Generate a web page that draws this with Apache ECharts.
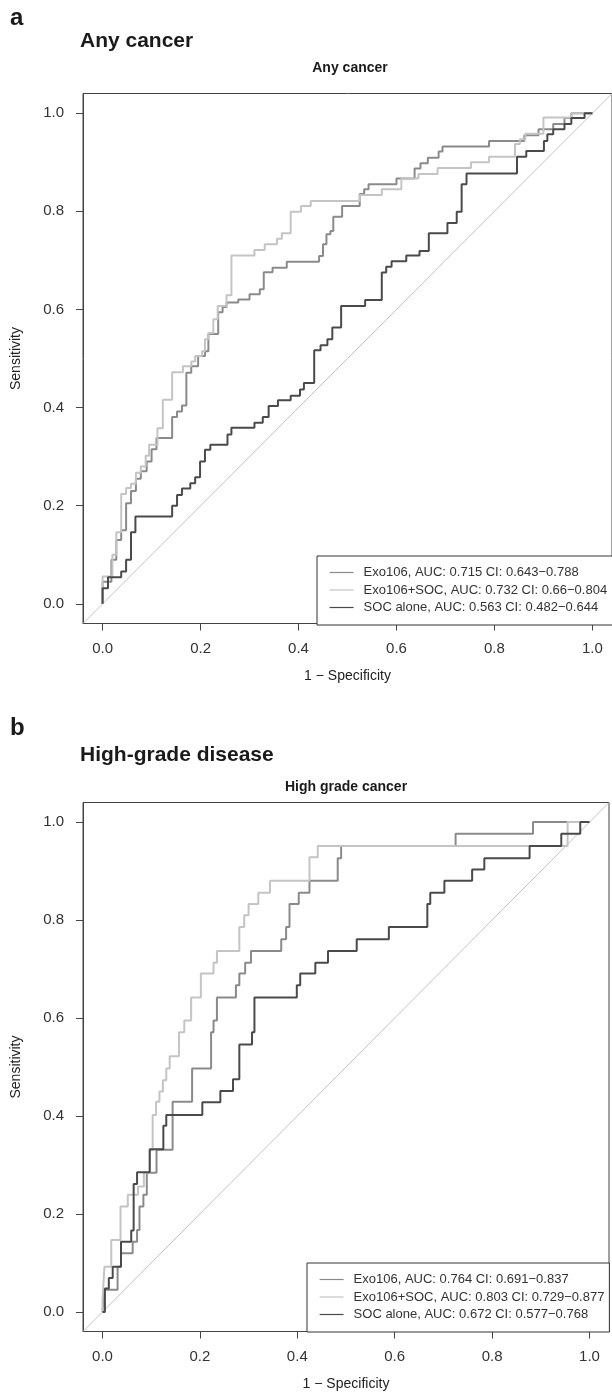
<!DOCTYPE html>
<html>
<head>
<meta charset="utf-8">
<script src="https://cdn.jsdelivr.net/npm/echarts@6/dist/echarts.min.js"></script>
<style>
  html, body { margin: 0; padding: 0; background: #fff; }
  #chart { width: 612px; height: 1393px; }
</style>
</head>
<body>
<div id="chart"></div>
<script>
// tick values shared by both panels
const ticks = [0, 0.2, 0.4, 0.6, 0.8, 1.0]
const diagonal = [[-0.04, -0.04], [1.04, 1.04]]

// panel a: any cancer  (vertices of the ROC step curves, [1 - specificity, sensitivity])
const aNames = [
  'Exo106, AUC: 0.715 CI: 0.643\u22120.788',
  'Exo106+SOC, AUC: 0.732 CI: 0.66\u22120.804',
  'SOC alone, AUC: 0.563 CI: 0.482\u22120.644'
]
const aExo106 = [
  [0, 0], [0, 0.045], [0.018, 0.045], [0.018, 0.09], [0.028, 0.09], [0.028, 0.13], [0.038, 0.13], [0.038, 0.15],
  [0.048, 0.15], [0.048, 0.205], [0.058, 0.205], [0.058, 0.23], [0.068, 0.23], [0.068, 0.255], [0.078, 0.255],
  [0.078, 0.27], [0.09, 0.27], [0.09, 0.29], [0.1, 0.29], [0.1, 0.315], [0.11, 0.315], [0.11, 0.338],
  [0.142, 0.338], [0.142, 0.381], [0.152, 0.381], [0.152, 0.392], [0.162, 0.392], [0.162, 0.404], [0.171, 0.404],
  [0.171, 0.471], [0.181, 0.471], [0.181, 0.484], [0.195, 0.484], [0.195, 0.505], [0.209, 0.505], [0.209, 0.515],
  [0.216, 0.515], [0.216, 0.55], [0.236, 0.55], [0.236, 0.594], [0.245, 0.594], [0.245, 0.605], [0.253, 0.605],
  [0.253, 0.614], [0.277, 0.614], [0.277, 0.62], [0.3, 0.62], [0.3, 0.631], [0.321, 0.631], [0.321, 0.641],
  [0.329, 0.641], [0.329, 0.676], [0.347, 0.676], [0.347, 0.685], [0.376, 0.685], [0.376, 0.697], [0.442, 0.697],
  [0.442, 0.709], [0.45, 0.709], [0.45, 0.733], [0.457, 0.733], [0.457, 0.753], [0.465, 0.753], [0.465, 0.76],
  [0.471, 0.76], [0.471, 0.789], [0.489, 0.789], [0.489, 0.811], [0.525, 0.811], [0.525, 0.835], [0.534, 0.835],
  [0.534, 0.845], [0.543, 0.845], [0.543, 0.855], [0.6, 0.855], [0.6, 0.867], [0.637, 0.867], [0.637, 0.887],
  [0.649, 0.887], [0.649, 0.898], [0.664, 0.898], [0.664, 0.909], [0.686, 0.909], [0.686, 0.922], [0.694, 0.922],
  [0.694, 0.932], [0.789, 0.932], [0.789, 0.943], [0.861, 0.943], [0.861, 0.955], [0.89, 0.955], [0.89, 0.967],
  [0.92, 0.967], [0.92, 0.978], [0.943, 0.978], [0.943, 0.99], [0.957, 0.99], [0.957, 1], [1, 1]
]
const aExoSoc = [
  [0, 0], [0, 0.056], [0.02, 0.056], [0.02, 0.1], [0.028, 0.1], [0.028, 0.146], [0.038, 0.146], [0.038, 0.224],
  [0.048, 0.224], [0.048, 0.236], [0.058, 0.236], [0.058, 0.245], [0.068, 0.245], [0.068, 0.267], [0.078, 0.267],
  [0.078, 0.28], [0.088, 0.28], [0.088, 0.302], [0.095, 0.302], [0.095, 0.324], [0.112, 0.324], [0.112, 0.358],
  [0.123, 0.358], [0.123, 0.416], [0.142, 0.416], [0.142, 0.472], [0.164, 0.472], [0.164, 0.484], [0.181, 0.484],
  [0.181, 0.494], [0.189, 0.494], [0.189, 0.505], [0.203, 0.505], [0.203, 0.515], [0.209, 0.515], [0.209, 0.539],
  [0.216, 0.539], [0.216, 0.552], [0.226, 0.552], [0.226, 0.58], [0.235, 0.58], [0.235, 0.607], [0.253, 0.607],
  [0.253, 0.629], [0.263, 0.629], [0.263, 0.71], [0.31, 0.71], [0.31, 0.721], [0.331, 0.721], [0.331, 0.733],
  [0.356, 0.733], [0.356, 0.744], [0.366, 0.744], [0.366, 0.755], [0.384, 0.755], [0.384, 0.799], [0.405, 0.799],
  [0.405, 0.811], [0.425, 0.811], [0.425, 0.821], [0.525, 0.821], [0.525, 0.833], [0.57, 0.833], [0.57, 0.845],
  [0.61, 0.845], [0.61, 0.867], [0.645, 0.867], [0.645, 0.876], [0.684, 0.876], [0.684, 0.888], [0.752, 0.888],
  [0.752, 0.9], [0.789, 0.9], [0.789, 0.911], [0.842, 0.911], [0.842, 0.937], [0.852, 0.937], [0.852, 0.947],
  [0.863, 0.947], [0.863, 0.958], [0.9, 0.958], [0.9, 0.991], [0.957, 0.991], [0.957, 1], [1, 1]
]
const aSoc = [
  [0, 0], [0, 0.032], [0.011, 0.032], [0.011, 0.054], [0.038, 0.054], [0.038, 0.066], [0.048, 0.066], [0.048, 0.09],
  [0.058, 0.09], [0.058, 0.146], [0.067, 0.146], [0.067, 0.178], [0.142, 0.178], [0.142, 0.2], [0.152, 0.2],
  [0.152, 0.222], [0.162, 0.222], [0.162, 0.235], [0.179, 0.235], [0.179, 0.246], [0.189, 0.246], [0.189, 0.258],
  [0.199, 0.258], [0.199, 0.29], [0.209, 0.29], [0.209, 0.314], [0.22, 0.314], [0.22, 0.324], [0.255, 0.324],
  [0.255, 0.345], [0.263, 0.345], [0.263, 0.359], [0.31, 0.359], [0.31, 0.369], [0.327, 0.369], [0.327, 0.381],
  [0.339, 0.381], [0.339, 0.403], [0.358, 0.403], [0.358, 0.415], [0.384, 0.415], [0.384, 0.424], [0.403, 0.424],
  [0.403, 0.437], [0.411, 0.437], [0.411, 0.45], [0.432, 0.45], [0.432, 0.517], [0.445, 0.517], [0.445, 0.527],
  [0.459, 0.527], [0.459, 0.539], [0.469, 0.539], [0.469, 0.563], [0.487, 0.563], [0.487, 0.607], [0.536, 0.607],
  [0.536, 0.619], [0.57, 0.619], [0.57, 0.675], [0.579, 0.675], [0.579, 0.687], [0.59, 0.687], [0.59, 0.698],
  [0.62, 0.698], [0.62, 0.71], [0.647, 0.71], [0.647, 0.719], [0.666, 0.719], [0.666, 0.755], [0.704, 0.755],
  [0.704, 0.776], [0.723, 0.776], [0.723, 0.799], [0.733, 0.799], [0.733, 0.855], [0.743, 0.855], [0.743, 0.877],
  [0.846, 0.877], [0.846, 0.911], [0.865, 0.911], [0.865, 0.923], [0.901, 0.923], [0.901, 0.943], [0.908, 0.943],
  [0.908, 0.957], [0.92, 0.957], [0.92, 0.967], [0.943, 0.967], [0.943, 0.978], [0.957, 0.978], [0.957, 0.99],
  [0.984, 0.99], [0.984, 1], [1, 1]
]

// panel b: high grade cancer
const bNames = [
  'Exo106, AUC: 0.764 CI: 0.691\u22120.837',
  'Exo106+SOC, AUC: 0.803 CI: 0.729\u22120.877',
  'SOC alone, AUC: 0.672 CI: 0.577\u22120.768'
]
const bExo106 = [
  [0, 0], [0.004, 0], [0.004, 0.045], [0.031, 0.045], [0.031, 0.092], [0.038, 0.092], [0.038, 0.12], [0.062, 0.12],
  [0.062, 0.143], [0.071, 0.143], [0.071, 0.167], [0.076, 0.167], [0.076, 0.215], [0.084, 0.215], [0.084, 0.239],
  [0.091, 0.239], [0.091, 0.284], [0.111, 0.284], [0.111, 0.331], [0.144, 0.331], [0.144, 0.429], [0.184, 0.429],
  [0.184, 0.497], [0.223, 0.497], [0.223, 0.571], [0.228, 0.571], [0.228, 0.595], [0.235, 0.595], [0.235, 0.642],
  [0.274, 0.642], [0.274, 0.667], [0.281, 0.667], [0.281, 0.691], [0.293, 0.691], [0.293, 0.713], [0.305, 0.713],
  [0.305, 0.737], [0.367, 0.737], [0.367, 0.761], [0.377, 0.761], [0.377, 0.786], [0.384, 0.786], [0.384, 0.833],
  [0.403, 0.833], [0.403, 0.856], [0.425, 0.856], [0.425, 0.88], [0.483, 0.88], [0.483, 0.926], [0.49, 0.926],
  [0.49, 0.951], [0.725, 0.951], [0.725, 0.976], [0.884, 0.976], [0.884, 1], [1, 1]
]
const bExoSoc = [
  [0, 0], [0, 0.024], [0.004, 0.024], [0.004, 0.092], [0.018, 0.092], [0.018, 0.147], [0.037, 0.147], [0.037, 0.215],
  [0.052, 0.215], [0.052, 0.239], [0.073, 0.239], [0.073, 0.256], [0.085, 0.256], [0.085, 0.284], [0.097, 0.284],
  [0.097, 0.33], [0.103, 0.33], [0.103, 0.402], [0.11, 0.402], [0.11, 0.429], [0.117, 0.429], [0.117, 0.45],
  [0.124, 0.45], [0.124, 0.473], [0.131, 0.473], [0.131, 0.497], [0.138, 0.497], [0.138, 0.522], [0.157, 0.522],
  [0.157, 0.571], [0.168, 0.571], [0.168, 0.595], [0.182, 0.595], [0.182, 0.642], [0.202, 0.642], [0.202, 0.691],
  [0.228, 0.691], [0.228, 0.713], [0.235, 0.713], [0.235, 0.737], [0.281, 0.737], [0.281, 0.786], [0.291, 0.786],
  [0.291, 0.81], [0.3, 0.81], [0.3, 0.833], [0.32, 0.833], [0.32, 0.856], [0.344, 0.856], [0.344, 0.88],
  [0.425, 0.88], [0.425, 0.928], [0.442, 0.928], [0.442, 0.951], [0.955, 0.951], [0.955, 1], [1, 1]
]
const bSoc = [
  [0, 0], [0.005, 0], [0.005, 0.048], [0.013, 0.048], [0.013, 0.069], [0.021, 0.069], [0.021, 0.092], [0.038, 0.092],
  [0.038, 0.143], [0.059, 0.143], [0.059, 0.166], [0.064, 0.166], [0.064, 0.261], [0.071, 0.261], [0.071, 0.285],
  [0.097, 0.285], [0.097, 0.332], [0.125, 0.332], [0.125, 0.38], [0.131, 0.38], [0.131, 0.402], [0.205, 0.402],
  [0.205, 0.428], [0.242, 0.428], [0.242, 0.451], [0.268, 0.451], [0.268, 0.475], [0.281, 0.475], [0.281, 0.546],
  [0.307, 0.546], [0.307, 0.571], [0.312, 0.571], [0.312, 0.642], [0.399, 0.642], [0.399, 0.667], [0.406, 0.667],
  [0.406, 0.691], [0.437, 0.691], [0.437, 0.713], [0.463, 0.713], [0.463, 0.737], [0.522, 0.737], [0.522, 0.761],
  [0.588, 0.761], [0.588, 0.786], [0.667, 0.786], [0.667, 0.833], [0.673, 0.833], [0.673, 0.856], [0.702, 0.856],
  [0.702, 0.88], [0.759, 0.88], [0.759, 0.903], [0.784, 0.903], [0.784, 0.926], [0.877, 0.926], [0.877, 0.951],
  [0.942, 0.951], [0.942, 0.976], [0.981, 0.976], [0.981, 1], [1, 1]
]

const colors = ['#8a8a8a', '#c4c4c4', '#4a4a4a']
const font = '"Liberation Sans", Arial, Helvetica, sans-serif'

function xAxisFor(gridIndex) {
  return {
    type: 'value', gridIndex: gridIndex, min: -0.04, max: 1.04,
    name: '1 \u2212 Specificity', nameLocation: 'middle', nameGap: 46,
    nameTextStyle: { fontSize: 14, color: '#222', fontFamily: font },
    axisLine: { show: true, onZero: false, lineStyle: { color: '#444' } },
    axisTick: { show: true, inside: false, length: 7, customValues: ticks, lineStyle: { color: '#444' } },
    axisLabel: { customValues: ticks, margin: 18, fontSize: 15, color: '#333', fontFamily: font,
      formatter: v => v.toFixed(1) },
    splitLine: { show: false }
  }
}
function yAxisFor(gridIndex) {
  return {
    type: 'value', gridIndex: gridIndex, min: -0.04, max: 1.04,
    name: 'Sensitivity', nameLocation: 'middle', nameGap: 60, nameRotate: 90,
    nameTextStyle: { fontSize: 14, color: '#222', fontFamily: font },
    axisLine: { show: true, onZero: false, lineStyle: { color: '#444' } },
    axisTick: { show: true, inside: false, length: 7, customValues: ticks, lineStyle: { color: '#444' } },
    axisLabel: { customValues: ticks, margin: 19, fontSize: 15, color: '#333', fontFamily: font,
      formatter: v => v.toFixed(1) },
    splitLine: { show: false }
  }
}
function curve(name, data, color, idx) {
  return {
    name: name, type: 'line', xAxisIndex: idx, yAxisIndex: idx, data: data,
    symbol: 'none', lineStyle: { color: color, width: 2 }, itemStyle: { color: color }
  }
}
function diag(idx) {
  return {
    name: 'diag', type: 'line', xAxisIndex: idx, yAxisIndex: idx, data: diagonal,
    symbol: 'none', silent: true, lineStyle: { color: '#c2c2c2', width: 1 }, z: 1
  }
}
function legendFor(names, left, top, padRight) {
  return {
    data: names, orient: 'vertical', left: left, top: top, selectedMode: false,
    padding: [9, padRight, 10, 12], itemWidth: 24, itemHeight: 10, itemGap: 2.5,
    borderColor: '#333', borderWidth: 1, backgroundColor: '#fff',
    itemStyle: { opacity: 0 },
    lineStyle: { width: 1.2, opacity: 1 },
    textStyle: { fontSize: 13, lineHeight: 15, color: '#333', fontFamily: font, padding: [0, 0, 0, 5] }
  }
}
function label(text, x, y, size, align) {
  return {
    type: 'text', x: x, y: y,
    style: { text: text, fontSize: size, fontWeight: 'bold', fontFamily: font, fill: '#1a1a1a',
      align: align, verticalAlign: 'middle', textAlign: align, textVerticalAlign: 'middle' }
  }
}

const chart = echarts.init(document.getElementById('chart'), null, { renderer: 'canvas' })
chart.setOption({
  animation: false,
  backgroundColor: '#fff',
  grid: [
    { left: 83, top: 93.5, width: 534.6, height: 530, show: true, borderColor: '#444', borderWidth: 1, backgroundColor: 'transparent' },
    { left: 83, top: 802.5, width: 526, height: 529, show: true, borderColor: '#444', borderWidth: 1, backgroundColor: 'transparent' }
  ],
  xAxis: [xAxisFor(0), xAxisFor(1)],
  yAxis: [yAxisFor(0), yAxisFor(1)],
  legend: [
    legendFor(aNames, 317, 556, 40),
    legendFor(bNames, 307, 1263, 5)
  ],
  graphic: [
    label('a', 10, 18, 24, 'left'),
    label('Any cancer', 80, 41, 21, 'left'),
    label('Any cancer', 350, 68, 14, 'center'),
    label('b', 10, 728, 24, 'left'),
    label('High-grade disease', 80, 755, 21, 'left'),
    label('High grade cancer', 346, 787, 14, 'center')
  ],
  series: [
    diag(0),
    curve(aNames[0], aExo106, colors[0], 0),
    curve(aNames[1], aExoSoc, colors[1], 0),
    curve(aNames[2], aSoc, colors[2], 0),
    diag(1),
    curve(bNames[0], bExo106, colors[0], 1),
    curve(bNames[1], bExoSoc, colors[1], 1),
    curve(bNames[2], bSoc, colors[2], 1)
  ]
})
</script>
</body>
</html>
